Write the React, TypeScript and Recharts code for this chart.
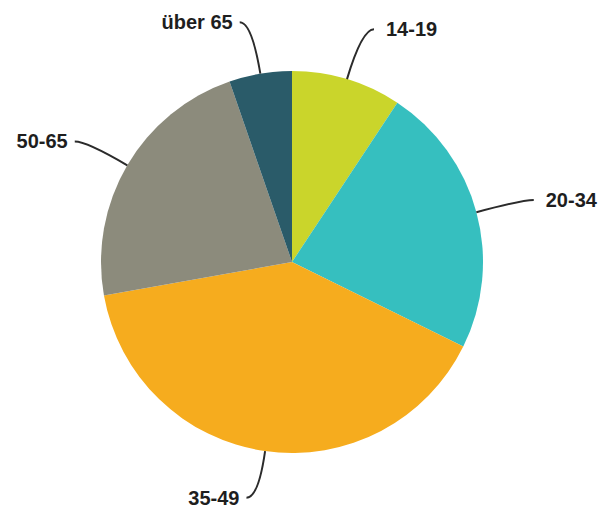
import { PieChart, Pie, Cell } from "recharts";

// Altersgruppen
const groups = ["14-19", "20-34", "35-49", "50-65", "über 65"];
// Anteile in %
const shares = [9.3, 23.0, 39.9, 22.5, 5.3];
const colors = ["#cad52b", "#36bfbf", "#f6ac1e", "#8c8b7c", "#2a5b69"];

const data = groups.map((name, i) => ({ name, value: shares[i] }));

const RAD = Math.PI / 180;

const renderLabel = (props: any) => {
  const { cx, cy, midAngle, outerRadius, name } = props;
  const cos = Math.cos(-midAngle * RAD);
  const sin = Math.sin(-midAngle * RAD);
  const sx = cx + outerRadius * cos;
  const sy = cy + outerRadius * sin;
  // oben etwas weiter raus
  const ext = sin < -0.9 ? 52 : 47;
  const mx = cx + (outerRadius + ext) * cos;
  const my = cy + (outerRadius + ext) * sin;
  const dir = cos >= 0 ? 1 : -1;
  const ex = mx + dir * 12;
  const ey = my;
  return (
    <g>
      <path
        d={`M${sx},${sy} Q${mx},${my} ${ex},${ey}`}
        stroke="#2b2b2b"
        strokeWidth={2}
        fill="none"
      />
      <text
        x={ex + dir * (dir > 0 ? 12 : 7)}
        y={ey}
        textAnchor={dir > 0 ? "start" : "end"}
        dominantBaseline="central"
        fontFamily="'Liberation Sans', Arial, sans-serif"
        fontWeight="bold"
        fontSize={20}
        fill="#1e1e1e"
      >
        {name}
      </text>
    </g>
  );
};

export default function App() {
  return (
    <div style={{ position: "absolute", left: 0, top: 0, background: "#fff" }}>
      <PieChart width={602} height={510}>
        <Pie
          data={data}
          dataKey="value"
          nameKey="name"
          cx={287}
          cy={257}
          outerRadius={191}
          startAngle={90}
          endAngle={-270}
          stroke="none"
          label={renderLabel}
          labelLine={false}
          isAnimationActive={false}
        >
          {data.map((d, i) => (
            <Cell key={d.name} fill={colors[i]} />
          ))}
        </Pie>
      </PieChart>
    </div>
  );
}
